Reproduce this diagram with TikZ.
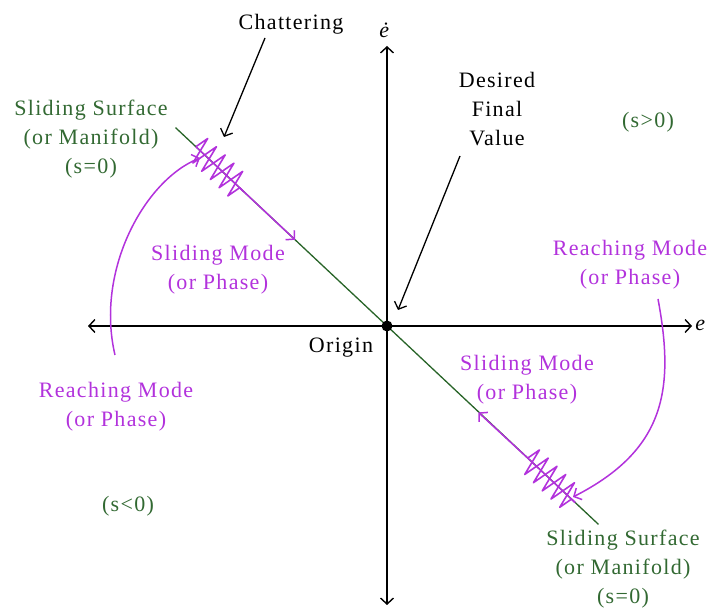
\documentclass[tikz,border=0pt]{standalone}
\usepackage{fontspec}
\setmainfont{Liberation Serif}[LetterSpace=6]
\usetikzlibrary{arrows.meta,decorations.pathmorphing}
\definecolor{sgreen}{RGB}{50,105,50}
\definecolor{lgreen}{RGB}{40,100,40}
\definecolor{spurp}{RGB}{178,50,220}
\begin{document}
\begin{tikzpicture}[x=1pt,y=-1pt,
 lbl/.style={font=\fontsize{22}{29}\selectfont, align=center, inner sep=0pt},
 gtxt/.style={lbl,text=sgreen},
 ptxt/.style={lbl,text=spurp},
 btxt/.style={lbl,text=black},
 axisline/.style={draw=black,line width=1.4pt,{Straight Barb[length=6pt,width=13pt]}-{Straight Barb[length=6pt,width=13pt]}},
 pointer/.style={draw=black,line width=1.3pt,-{Straight Barb[length=6pt,width=13pt]}},
 surface/.style={draw=lgreen,line width=1.3pt},
 pline/.style={draw=spurp,line width=1.5pt,-{Straight Barb[length=6pt,width=13pt]}},
 chatter/.style={draw=spurp,line width=1.6pt,line join=round,decorate,decoration={zigzag,segment length=12pt,amplitude=14pt}}
]
\useasboundingbox (0,0) rectangle (713,609);
% axes
\coordinate (xl) at (88,326);
\coordinate (xr) at (692,326);
\coordinate (yt) at (387,46);
\coordinate (yb) at (387,605);
\draw[axisline] (xl) -- (xr);
\draw[axisline] (yb) -- (yt);
% sliding surface
\coordinate (s1) at (175.5,127.6);
\coordinate (s2) at (598.5,524.4);
\draw[surface] (s1) -- (s2);
% chattering zones
\coordinate (c1a) at (195.9,146.7);
\coordinate (c1b) at (243.3,191.2);
\coordinate (m1) at (295.1,239.8);
\coordinate (c2a) at (527.7,458.1);
\coordinate (c2b) at (575.1,502.5);
\coordinate (m2) at (478.4,412.4);
\draw[chatter] (c1a) -- (c1b);
\draw[chatter] (c2a) -- (c2b);
\draw[draw=spurp,line width=1.5pt] (c1a) -- (c1b);
\draw[draw=spurp,line width=1.5pt] (c2a) -- (c2b);
\draw[pline] (c1b) -- (m1);
\draw[pline] (c2a) -- (m2);
% reaching arcs
\coordinate (r1a) at (115,355);
\coordinate (r1b) at (200,158);
\coordinate (r2a) at (658,299);
\coordinate (r2b) at (573,497);
\draw[pline] (r1a) .. controls (95,270) and (145,180) .. (r1b);
\draw[pline] (r2a) .. controls (675,390) and (665,450) .. (r2b);
% origin
\node[circle,fill=black,inner sep=0pt,minimum size=11pt] (O) at (387,326) {};
% labels
\node[btxt] (chat) at (291,24) {Chattering};
\coordinate (chatend) at (224,137);
\draw[pointer] (265,38) -- (chatend);
\node[btxt] (dfv) at (497,109) {Desired\\Final\\Value};
\coordinate (dfvend) at (398,310);
\draw[pointer] (460,156) -- (dfvend);
\node[lbl,anchor=south] (edot) at (385,38) {\textit{ė}};
\node[lbl] (elab) at (701,325) {\textit{e}};
\node[btxt] (orig) at (341,348) {Origin};
\node[gtxt] (ss1) at (91,139) {Sliding Surface\\(or Manifold)\\(s=0)};
\node[gtxt] (ss2) at (623,569) {Sliding Surface\\(or Manifold)\\(s=0)};
\node[gtxt] (spos) at (648,122) {(s>0)};
\node[gtxt] (sneg) at (128,506) {(s<0)};
\node[ptxt] (sm1) at (218,270) {Sliding Mode\\(or Phase)};
\node[ptxt] (sm2) at (527,380) {Sliding Mode\\(or Phase)};
\node[ptxt] (rm1) at (630,265) {Reaching Mode\\(or Phase)};
\node[ptxt] (rm2) at (116,407) {Reaching Mode\\(or Phase)};
\end{tikzpicture}
\end{document}
